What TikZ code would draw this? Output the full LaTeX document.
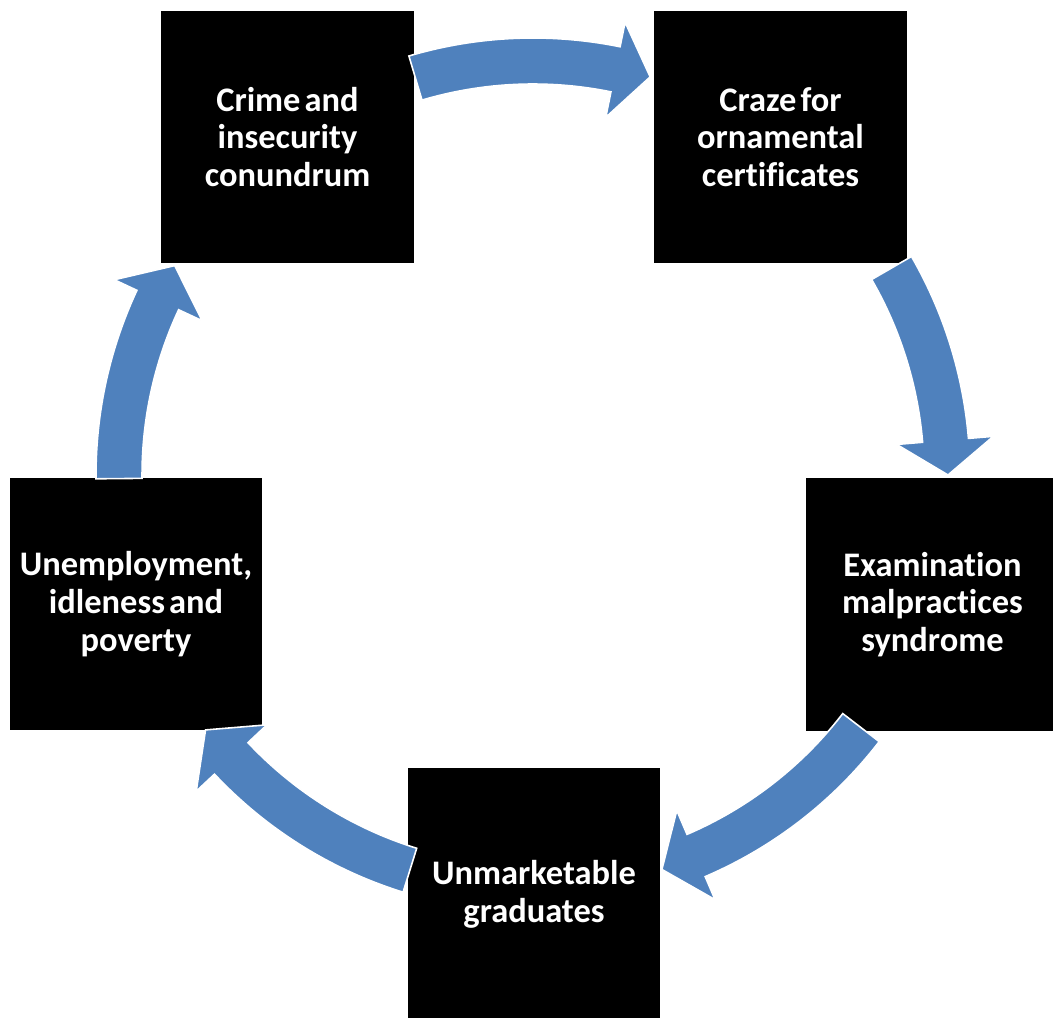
\documentclass[tikz,border=0pt]{standalone}
\usepackage{fontspec}
\setmainfont[Ligatures=NoCommon]{Carlito}
% narrow word gap used inside the stage labels
\newcommand\wgap{\hspace{0.12em}}
\begin{document}
\begin{tikzpicture}[x=0.02cm,y=0.02cm]
  \definecolor{cycleblue}{HTML}{4F81BD}
  \tikzset{
    stagebox/.style={fill=black, text=white, minimum width=5.06cm, minimum height=5.06cm,
      inner sep=0pt, text width=4.95cm, align=center,
      font=\fontsize{19.6}{21.5}\selectfont\bfseries},
    cyclearrow/.style={fill=cycleblue, draw=white, line width=0.9pt, line join=miter}
  }
  % curved block arrow on the ring: tail angle, head base angle, tip angle
  \newcommand\ringarrow[3]{%
    \path[cyclearrow] (#1:437) arc[start angle=#1, end angle=#2, radius=8.74cm]
      -- (#2:462) -- (#3:415) -- (#2:365) -- (#2:391)
      arc[start angle=#2, end angle=#1, radius=7.82cm] -- cycle;}

  \useasboundingbox (0,0) rectangle (1053,1017);
  \clip (0,0) rectangle (1053,1017);

  % the five stages
  \node[stagebox] (crime)  at (287.5,880)   {Crime\wgap and\\insecurity\\conundrum};
  \node[stagebox] (craze)  at (780.5,880)   {Craze\wgap for\\ornamental\\certificates};
  \node[stagebox] (exam)   at (932.5,412.5) {Examination\\malpractices\\syndrome};
  \node[stagebox] (unmark) at (534,122.5)   {Unmarketable\\graduates};
  \node[stagebox] (unemp)  at (136,413)     {Unemployment,\\idleness\wgap and\\poverty};

  % arrows around the cycle
  \begin{scope}[shift={(533,542)}]
    \ringarrow{106.5}{78.5}{73.6}
    \ringarrow{30}{4.8}{0}
    \ringarrow{-37.6}{-66.8}{-71.9}
    \ringarrow{-107.3}{-136.8}{-142.1}
    \ringarrow{180.5}{155}{149.7}
  \end{scope}
\end{tikzpicture}
\end{document}
